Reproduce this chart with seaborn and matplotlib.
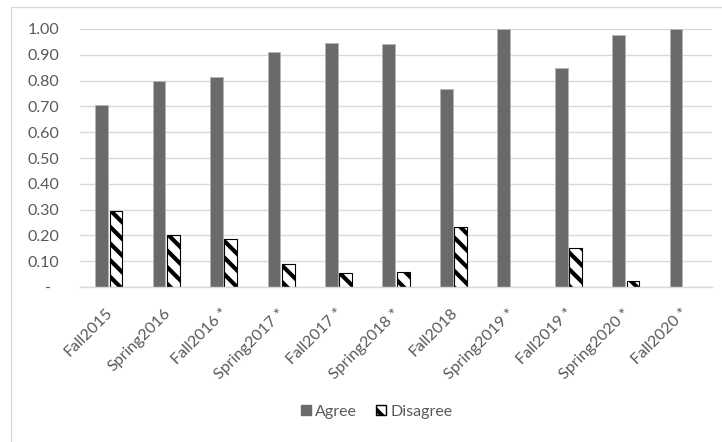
import matplotlib
matplotlib.use("Agg")
import matplotlib.pyplot as plt
import matplotlib.transforms as mtransforms
from matplotlib.patches import Patch, Rectangle
import numpy as np
import pandas as pd
import seaborn as sns

# Survey terms and response shares
terms = ["Fall2015", "Spring2016", "Fall2016 *", "Spring2017 *", "Fall2017 *",
         "Spring2018 *", "Fall2018", "Spring2019 *", "Fall2019 *", "Spring2020 *",
         "Fall2020 *"]
agree = [0.707, 0.797, 0.814, 0.911, 0.946, 0.942, 0.767, 1.00, 0.848, 0.976, 1.00]
disagree = [0.293, 0.203, 0.186, 0.089, 0.054, 0.058, 0.233, 0.00, 0.152, 0.024, 0.00]
responses = ["Agree", "Disagree"]
y_ticks = [0.0, 0.1, 0.2, 0.3, 0.4, 0.5, 0.6, 0.7, 0.8, 0.9, 1.0]

df = pd.DataFrame({
    "term": terms * 2,
    "response": [responses[0]] * len(terms) + [responses[1]] * len(terms),
    "share": agree + disagree,
})

sns.set_theme(style="white")
plt.rcParams["font.family"] = ["Lato", "DejaVu Sans"]
plt.rcParams["hatch.linewidth"] = 3.0

TEXT = "#595959"
GRID = "#d9d9d9"
AGREE_C = "#6a6a6a"
HATCH = "\\\\"

fig = plt.figure(figsize=(7.22, 4.42), dpi=100)
ax = fig.add_axes([80 / 722, 1 - 287 / 442, 632 / 722, 258 / 442])

sns.barplot(data=df, x="term", y="share", hue="response", order=terms,
            hue_order=responses, palette=[AGREE_C, "white"],
            width=0.5, gap=0.12, legend=False, ax=ax)

for bar in ax.containers[0]:
    bar.set_edgecolor("#b5b5b5")
    bar.set_linewidth(0.6)
for bar in ax.containers[1]:
    bar.set_facecolor("white")
    bar.set_edgecolor("black")
    bar.set_hatch(HATCH)
    bar.set_linewidth(0.8 if bar.get_height() > 0 else 0)

ax.set_xlim(-0.5, len(terms) - 0.5)
ax.set_ylim(0, 1.0)
ax.set_yticks(y_ticks)
ax.set_yticklabels(["-  " if v == 0 else f"{v:.2f}" for v in y_ticks])
ax.yaxis.grid(True, color=GRID, linewidth=1.0)
ax.set_axisbelow(True)
for side in ["top", "right", "left"]:
    ax.spines[side].set_visible(False)
ax.spines["bottom"].set_color(GRID)
ax.spines["bottom"].set_linewidth(1.0)
ax.set_xlabel("")
ax.set_ylabel("")
ax.tick_params(axis="y", length=0, pad=15, labelsize=11.5, labelcolor=TEXT)
ax.tick_params(axis="x", length=0, pad=0, labelsize=11.5, labelcolor=TEXT)

offset = mtransforms.ScaledTranslation(2 / 100, -24 / 100, fig.dpi_scale_trans)
for lab in ax.get_xticklabels():
    lab.set_rotation(45)
    lab.set_ha("right")
    lab.set_va("center")
    lab.set_rotation_mode("anchor")
    lab.set_transform(lab.get_transform() + offset)

handles = [Patch(facecolor=AGREE_C, edgecolor=AGREE_C, label="Agree"),
           Patch(facecolor="white", edgecolor="black", hatch=HATCH, label="Disagree")]
fig.legend(handles=handles, loc="center", bbox_to_anchor=(377 / 722, 1 - 412 / 442),
           ncol=2, frameon=False, fontsize=11.5, labelcolor=TEXT,
           handlelength=0.6, handleheight=0.6, handletextpad=0.3, columnspacing=1.2)

# Chart-area frame
fig.add_artist(Rectangle((11 / 722, -0.2), 1.2, 1.2 - 7 / 442,
                         transform=fig.transFigure, fill=False,
                         edgecolor=GRID, linewidth=1.0))

fig.savefig("out.png", dpi=100)
